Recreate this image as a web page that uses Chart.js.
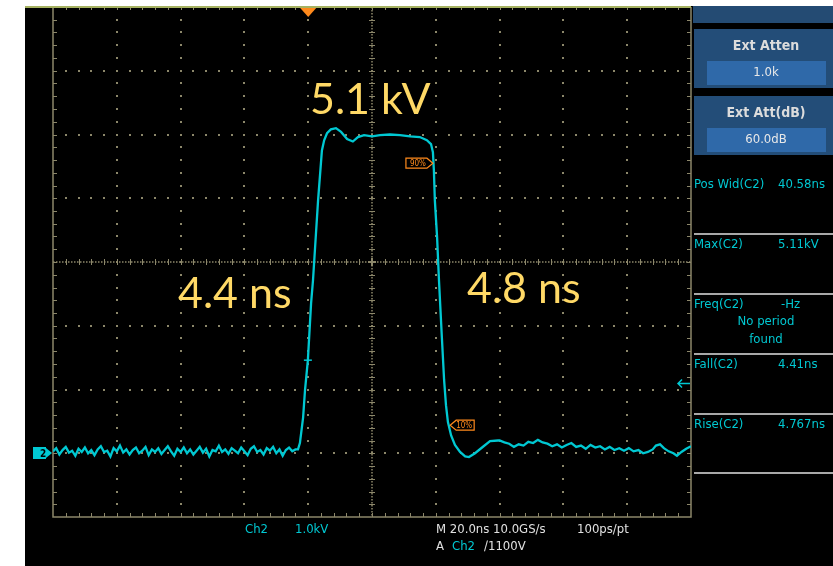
<!DOCTYPE html>
<html lang="en">
<head>
  <meta charset="UTF-8" />
  <title>Pulse – Ch2</title>
  <script src="https://cdn.jsdelivr.net/npm/chart.js"></script>
  <style>
    body { margin: 0; background: #fff; overflow: hidden; }
    #scope { display: block; }
  </style>
</head>
<body>
  <canvas id="scope" width="833" height="566"></canvas>

  <script>
    // time axis 20 ns/div, 10 div; voltage 1.0 kV/div, ground one div above bottom
    const timeNs = [
      0, 1, 2, 3, 4, 5, 6, 7, 8, 9, 10, 11, 12, 13, 14, 15, 16, 17, 18, 19,
      20, 21, 22, 23, 24, 25, 26, 27, 28, 29, 30, 31, 32, 33, 34, 35, 36, 37, 38, 39,
      40, 41, 42, 43, 44, 45, 46, 47, 48, 49, 50, 51, 52, 53, 54, 55, 56, 57, 58, 59,
      60, 61, 62, 63, 64, 65, 66, 67, 68, 69, 70, 71, 72, 73, 74, 75, 76,
      76.8, 77.4, 78.4, 79.0, 79.9, 80.9, 81.5, 82.4, 83.1, 84.3, 85.0, 85.9, 87.1, 88.7,
      90.3, 92.2, 94.0, 95.6, 97.5, 100.0, 102.5, 105.6, 108.8, 111.9, 115.0, 117.2,
      118.5, 119.1, 119.4, 119.7, 120.4, 121.0, 121.9, 122.6, 123.2, 123.8, 124.8,
      126.0, 127.6, 129.2, 130.4, 132.3, 134.5, 137.0, 139.5,
      140.0, 141.5, 143.0, 144.5, 146.0, 147.5, 149.0, 150.5, 152.0, 153.5, 155.0,
      156.5, 158.0, 159.5, 161.0, 162.5, 164.0, 165.5, 167.0, 168.5, 170.0, 171.5,
      173.0, 174.5, 176.0, 177.5, 179.0, 180.5, 182.0, 183.5, 185.0, 186.5, 188.0,
      189.0, 190.3, 191.5, 193.0, 194.5, 195.6, 197.0, 198.5, 200.0
    ];
    const voltKv = [
      0.03, 0.08, -0.02, 0.05, 0.10, 0.01, 0.04, -0.04, 0.07, 0.02, 0.09, 0.00, 0.05, -0.03, 0.06, 0.11, 0.02, 0.04, -0.05, 0.08,
      0.03, 0.12, 0.01, 0.06, -0.02, 0.05, 0.09, 0.00, 0.04, 0.10, -0.03, 0.06, 0.02, 0.08, -0.01, 0.05, 0.11, 0.03, -0.04, 0.07,
      0.02, 0.09, 0.00, 0.06, -0.02, 0.04, 0.10, 0.01, 0.07, -0.05, 0.05, 0.03, 0.12, 0.02, 0.06, -0.01, 0.08, 0.04, 0.00, 0.09,
      0.03, -0.03, 0.07, 0.11, 0.02, 0.05, -0.02, 0.08, 0.04, 0.10, 0.00, 0.06, -0.04, 0.05, 0.09, 0.03, 0.06,
      0.06, 0.16, 0.56, 0.99, 1.46, 2.35, 2.71, 3.42, 3.97, 4.75, 4.91, 5.02, 5.08, 5.10,
      5.04, 4.93, 4.89, 4.96, 4.99, 4.97, 4.99, 5.00, 4.99, 4.97, 4.96, 4.91,
      4.85, 4.72, 4.44, 3.97, 3.39, 2.71, 1.82, 1.15, 0.75, 0.49, 0.28,
      0.13, 0.02, -0.05, -0.06, 0.00, 0.09, 0.19, 0.20,
      0.20, 0.17, 0.15, 0.10, 0.14, 0.12, 0.18, 0.16, 0.21, 0.17, 0.15,
      0.11, 0.14, 0.09, 0.13, 0.16, 0.10, 0.12, 0.07, 0.13, 0.09, 0.11,
      0.06, 0.10, 0.05, 0.08, 0.04, 0.08, 0.03, 0.05, 0.00, 0.02, 0.06,
      0.12, 0.14, 0.08, 0.03, 0.00, -0.04, 0.02, 0.07, 0.11
    ];

    const measNames = ['Pos Wid(C2)', 'Max(C2)', 'Freq(C2)', 'Fall(C2)', 'Rise(C2)'];
    const measValues = ['40.58ns', '5.11kV', '-Hz', '4.41ns', '4.767ns'];
    const callouts = ['5.1 kV', '4.4 ns', '4.8 ns'];

    const GRID = '#8c876a';
    const CYAN = '#00c8d2';
    const ORANGE = '#ff8a1c';
    const SCOPE_FONT = '"DejaVu Sans Condensed", "Liberation Sans Narrow", "DejaVu Sans", sans-serif';

    const scopeBg = {
      id: 'scopeBg',
      beforeDraw(chart) {
        const c = chart.ctx;
        c.save();
        c.fillStyle = '#fff';
        c.fillRect(0, 0, chart.width, chart.height);
        c.fillStyle = '#000';
        c.fillRect(25, 6, chart.width - 25, chart.height - 6);
        c.restore();
      }
    };

    const scopeGrid = {
      id: 'scopeGrid',
      beforeDatasetsDraw(chart) {
        const c = chart.ctx;
        const xs = chart.scales.x, ys = chart.scales.y;
        const L = xs.left, R = xs.right, T = ys.top, B = ys.bottom;
        const px = v => xs.getPixelForValue(v);
        const py = v => ys.getPixelForValue(v);
        c.save();
        c.fillStyle = GRID;
        // dotted major lines
        for (let t = 20; t < 200; t += 20) {
          if (t === 100) continue;
          for (let k = 1; k < 40; k++) c.fillRect(Math.round(px(t)) - 1, Math.round(py(-1 + k * 0.2)) - 1, 2, 2);
        }
        for (let v = 0; v < 7; v += 1) {
          if (v === 3) continue;
          for (let k = 1; k < 50; k++) c.fillRect(Math.round(px(k * 4)) - 1, Math.round(py(v)) - 1, 2, 2);
        }
        // centre cross
        c.strokeStyle = GRID;
        c.lineWidth = 1.5;
        c.setLineDash([1.5, 1.5]);
        c.beginPath();
        c.moveTo(L, py(3)); c.lineTo(R, py(3));
        c.moveTo(px(100), T); c.lineTo(px(100), B);
        c.stroke();
        c.setLineDash([]);
        c.lineWidth = 1;
        c.beginPath();
        for (let k = 1; k < 50; k++) {
          const x = Math.round(px(k * 4)) + 0.5;
          c.moveTo(x, py(3) - 3); c.lineTo(x, py(3) + 3);
          c.moveTo(x, B); c.lineTo(x, B - 4);
          c.moveTo(x, T); c.lineTo(x, T + 3);
        }
        for (let k = 1; k < 40; k++) {
          const y = Math.round(py(-1 + k * 0.2)) + 0.5;
          c.moveTo(px(100) - 3, y); c.lineTo(px(100) + 3, y);
          c.moveTo(L, y); c.lineTo(L + 4, y);
          c.moveTo(R, y); c.lineTo(R - 4, y);
        }
        c.stroke();
        c.lineWidth = 2;
        c.beginPath();
        c.moveTo(px(100) - 4, py(3)); c.lineTo(px(100) + 4, py(3));
        c.moveTo(px(100), py(3) - 4); c.lineTo(px(100), py(3) + 4);
        c.stroke();
        // border
        c.lineWidth = 1.5;
        c.beginPath();
        c.moveTo(L, T); c.lineTo(L, B); c.lineTo(R, B); c.lineTo(R, T);
        c.stroke();
        c.strokeStyle = '#a6b262';
        c.lineWidth = 2;
        c.beginPath();
        c.moveTo(25, T); c.lineTo(R, T);
        c.stroke();
        c.restore();
      }
    };

    const scopeText = {
      id: 'scopeText',
      afterDraw(chart) {
        const c = chart.ctx;
        const xs = chart.scales.x, ys = chart.scales.y;
        const px = v => xs.getPixelForValue(v);
        const py = v => ys.getPixelForValue(v);
        const R = xs.right;
        c.save();

        // trigger position marker
        c.fillStyle = ORANGE;
        c.beginPath();
        c.moveTo(px(80) - 8, ys.top + 1); c.lineTo(px(80) + 8, ys.top + 1); c.lineTo(px(80), ys.top + 10);
        c.closePath(); c.fill();

        // ground marker
        const g = Math.round(py(0));
        c.fillStyle = CYAN;
        c.fillRect(33, g - 6, 13, 12);
        c.beginPath();
        c.moveTo(46, g - 5); c.lineTo(52, g); c.lineTo(46, g + 5); c.closePath(); c.fill();
        c.fillStyle = '#000';
        c.font = 'bold 10px ' + SCOPE_FONT;
        c.textBaseline = 'middle';
        c.textAlign = 'left';
        c.fillText('2', 40, g + 1);

        // trigger level arrow
        const tl = Math.round(py(1.1)) + 0.5;
        c.strokeStyle = CYAN; c.lineWidth = 1.5;
        c.beginPath();
        c.moveTo(R - 1, tl); c.lineTo(R - 13, tl);
        c.moveTo(R - 9, tl - 4); c.lineTo(R - 13, tl); c.lineTo(R - 9, tl + 4);
        c.stroke();

        // rising edge tick
        c.beginPath();
        c.moveTo(px(79.9) - 4, py(1.46)); c.lineTo(px(79.9) + 4, py(1.46));
        c.stroke();

        // 90% / 10% reference markers
        c.strokeStyle = ORANGE; c.fillStyle = ORANGE; c.lineWidth = 1.2;
        const y90 = py(4.55), x90 = px(119.1);
        c.beginPath();
        c.moveTo(x90 - 27, y90 - 5); c.lineTo(x90 - 6, y90 - 5); c.lineTo(x90, y90);
        c.lineTo(x90 - 6, y90 + 5); c.lineTo(x90 - 27, y90 + 5); c.closePath(); c.stroke();
        const y10 = py(0.44), x10 = px(124.5);
        c.beginPath();
        c.moveTo(x10, y10); c.lineTo(x10 + 6, y10 - 5); c.lineTo(x10 + 24, y10 - 5);
        c.lineTo(x10 + 24, y10 + 5); c.lineTo(x10 + 6, y10 + 5); c.closePath(); c.stroke();
        c.font = '8px ' + SCOPE_FONT;
        c.textAlign = 'center';
        c.fillText('90%', x90 - 15, y90 + 1);
        c.fillText('10%', x10 + 14, y10 + 1);

        // call-outs
        c.fillStyle = '#ffd966';
        c.font = '43px Lato, "Open Sans", sans-serif';
        c.textAlign = 'left';
        c.textBaseline = 'alphabetic';
        c.fillText(callouts[0], 310, 114);
        c.fillText(callouts[1], 178, 308);
        c.fillText(callouts[2], 467, 303);

        // right panel
        c.fillStyle = '#244b73';
        c.fillRect(693, 6, 140, 17);
        [29, 96].forEach(y => {
          c.fillStyle = '#234d78';
          c.fillRect(694, y, 139, 59);
          c.fillStyle = '#2f69a9';
          c.fillRect(707, y + 32, 119, 24);
        });
        c.textAlign = 'center';
        c.textBaseline = 'middle';
        c.fillStyle = '#dcdcdc';
        c.font = 'bold 14px ' + SCOPE_FONT;
        c.fillText('Ext Atten', 766, 46);
        c.fillText('Ext Att(dB)', 766, 113);
        c.fillStyle = '#e8e8e8';
        c.font = '13px ' + SCOPE_FONT;
        c.fillText('1.0k', 766, 73);
        c.fillText('60.0dB', 766, 140);

        c.strokeStyle = '#a8a8a8'; c.lineWidth = 2;
        c.beginPath();
        [234, 294, 354, 414, 473].forEach(y => { c.moveTo(694, y); c.lineTo(833, y); });
        c.stroke();

        c.fillStyle = CYAN;
        c.font = '13px ' + SCOPE_FONT;
        const rows = [185, 245, 305, 365, 425];
        measNames.forEach((n, i) => {
          c.textAlign = 'left';
          c.fillText(n, 694, rows[i]);
          c.fillText(measValues[i], i === 2 ? 781 : 778, rows[i]);
        });
        c.textAlign = 'center';
        c.fillText('No period', 766, 322);
        c.fillText('found', 766, 340);

        // bottom status lines
        c.textAlign = 'left';
        c.fillText('Ch2', 245, 530);
        c.fillText('1.0kV', 295, 530);
        c.fillText('Ch2', 452, 547);
        c.fillStyle = '#e0e0e0';
        c.fillText('M 20.0ns 10.0GS/s', 436, 530);
        c.fillText('100ps/pt', 577, 530);
        c.fillText('A', 436, 547);
        c.fillText('\u22151100V', 484, 547);
        c.restore();
      }
    };

    const points = timeNs.map((t, i) => ({ x: t, y: voltKv[i] }));

    new Chart(document.getElementById('scope').getContext('2d'), {
      type: 'line',
      data: {
        datasets: [{
          label: 'Ch2',
          data: points,
          borderColor: CYAN,
          borderWidth: 2.3,
          pointRadius: 0,
          tension: 0,
          fill: false
        }]
      },
      options: {
        responsive: false,
        animation: false,
        layout: { padding: { left: 53, right: 142, top: 7, bottom: 49 } },
        scales: {
          x: { type: 'linear', min: 0, max: 200, display: false },
          y: { type: 'linear', min: -1, max: 7, display: false }
        },
        plugins: {
          legend: { display: false },
          tooltip: { enabled: false }
        }
      },
      plugins: [scopeBg, scopeGrid, scopeText]
    });
  </script>
</body>
</html>
